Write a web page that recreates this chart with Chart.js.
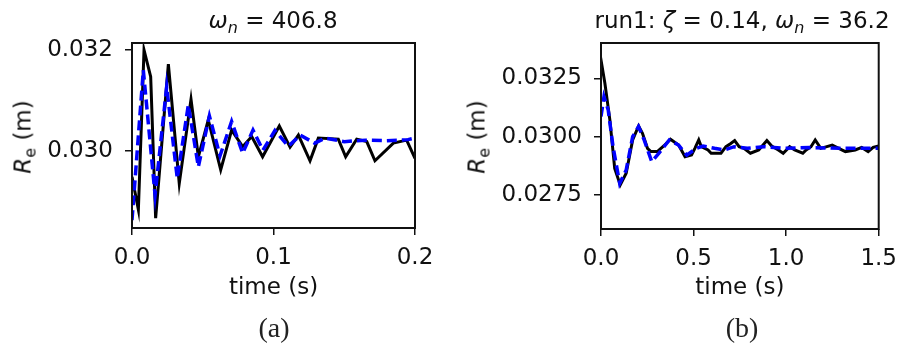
<!DOCTYPE html>
<html><head><meta charset="utf-8">
<script src="https://cdn.jsdelivr.net/npm/chart.js@4.4.0/dist/chart.umd.min.js"></script>
<style>
body{margin:0;background:#fff;width:906px;height:347px;position:relative;overflow:hidden;font-family:"DejaVu Sans",sans-serif;color:#111;}
canvas{position:absolute;top:0}
.t{position:absolute;font-size:23px;white-space:nowrap;transform:translate(-50%,-50%);line-height:1;}
.yl{position:absolute;font-size:23px;white-space:nowrap;transform:translate(-50%,-50%) rotate(-90deg);line-height:1;}
.sb{font-size:16px;position:relative;top:5px;}
.cap{position:absolute;font-family:"Liberation Serif",serif;font-size:28px;color:#222;transform:translate(-50%,-50%);line-height:1;}
</style></head>
<body>
<canvas id="ca" width="453" height="347" style="left:0"></canvas>
<canvas id="cb" width="453" height="347" style="left:453px"></canvas>
<div class="t" style="left:273px;top:20px"><i>ω</i><span class="sb"><i>n</i></span> = 406.8</div>
<div class="t" style="left:742px;top:20px">run1: <i>ζ</i> = 0.14, <i>ω</i><span class="sb"><i>n</i></span> = 36.2</div>
<div class="yl" style="left:23px;top:137px"><i>R</i><span class="sb">e</span> (m)</div>
<div class="yl" style="left:477px;top:137px"><i>R</i><span class="sb">e</span> (m)</div>
<div class="cap" style="left:274px;top:328px">(a)</div>
<div class="cap" style="left:742px;top:328px">(b)</div>
<script>
// ---- panel (a) data ----
const timeA_meas = [0,0.0045,0.0085,0.0132,0.0167,0.0257,0.0334,0.0417,0.0469,0.0539,0.0627,0.0704,0.0782,0.0846,0.0923,0.1041,0.1117,0.1176,0.1258,0.1317,0.1458,0.1510,0.1588,0.1659,0.1717,0.1847,0.1941,0.2];
const reA_meas   = [0.02948,0.02883,0.03200,0.03147,0.02866,0.03172,0.02935,0.03102,0.02988,0.03061,0.02962,0.03041,0.03008,0.03028,0.02988,0.03049,0.03007,0.03031,0.02980,0.03025,0.03023,0.02988,0.03023,0.03018,0.02980,0.03015,0.03021,0.02985];
const timeA_model = [0,0.0080,0.0163,0.0245,0.0320,0.0398,0.0469,0.0547,0.0622,0.0704,0.0782,0.0855,0.0925,0.1010,0.1105,0.1190,0.1290,0.1365,0.1500,0.1650,0.1800,0.1950,0.2];
const reA_model   = [0.02862,0.03160,0.02912,0.03127,0.02945,0.03091,0.02968,0.03069,0.02990,0.03058,0.02995,0.03041,0.03001,0.03040,0.03009,0.03031,0.03015,0.03025,0.03018,0.03021,0.03020,0.03022,0.03025];
const xTicksA = [0.0,0.1,0.2];
const yTicksA = [0.030,0.032];

// ---- panel (b) data ----
const timeB_meas = [0,0.006,0.021,0.048,0.074,0.104,0.136,0.171,0.203,0.224,0.251,0.269,0.304,0.339,0.375,0.419,0.454,0.489,0.507,0.528,0.542,0.578,0.595,0.648,0.675,0.701,0.722,0.746,0.772,0.807,0.852,0.896,0.922,0.958,0.984,1.019,1.046,1.090,1.108,1.134,1.157,1.187,1.249,1.284,1.320,1.373,1.408,1.443,1.470,1.5];
const reB_meas   = [0.03270,0.03300,0.03229,0.03071,0.02864,0.02793,0.02843,0.02986,0.03046,0.03014,0.02950,0.02936,0.02936,0.02960,0.02989,0.02964,0.02914,0.02921,0.02950,0.02986,0.02957,0.02943,0.02929,0.02929,0.02957,0.02971,0.02983,0.02957,0.02950,0.02929,0.02943,0.02983,0.02960,0.02943,0.02929,0.02957,0.02943,0.02929,0.02943,0.02957,0.02986,0.02950,0.02964,0.02950,0.02936,0.02943,0.02954,0.02936,0.02954,0.02960];
const timeB_model = [0,0.016,0.039,0.065,0.101,0.136,0.171,0.203,0.233,0.274,0.313,0.369,0.419,0.463,0.516,0.551,0.613,0.666,0.719,0.790,0.878,0.984,1.125,1.302,1.5];
const reB_model   = [0.03086,0.03171,0.03114,0.02957,0.02800,0.02857,0.03000,0.03043,0.02986,0.02893,0.02929,0.02986,0.02964,0.02921,0.02950,0.02960,0.02950,0.02943,0.02957,0.02950,0.02957,0.02950,0.02953,0.02950,0.02950];
const xTicksB = [0.0,0.5,1.0,1.5];
const yTicksB = [0.0275,0.0300,0.0325];

const frame = {id:'frame', afterDatasetsDraw(chart){
  const {ctx, chartArea:a} = chart;
  ctx.save(); ctx.strokeStyle='#111'; ctx.lineWidth=2;
  ctx.strokeRect(a.left, a.top, a.right-a.left, a.bottom-a.top); ctx.restore();
}};

const pts = (xs, ys) => xs.map((x,i)=>({x, y: ys[i]}));
const tickFont = {family:'DejaVu Sans', size:23};

function make(id, o){
  return new Chart(document.getElementById(id), {
    type:'line',
    data:{datasets:[
      {data: pts(o.tm, o.ym), borderColor:'#0000ff', borderWidth:3.5, borderDash:[10,5], pointRadius:0, fill:false, tension:0},
      {data: pts(o.tb, o.yb), borderColor:'#000000', borderWidth:3, pointRadius:0, fill:false, tension:0}
    ]},
    options:{
      responsive:false, animation:false, events:[],
      layout:{padding:{top:43, right:o.padR, left:0, bottom:0}},
      plugins:{legend:{display:false}, tooltip:{enabled:false}, title:{display:false}},
      scales:{
        x:{type:'linear', min:o.xmin, max:o.xmax,
          afterBuildTicks: s => { s.ticks = o.xt.map(v=>({value:v})); },
          afterFit: s => { s.height = o.xh; },
          ticks:{font:tickFont, color:'#111', padding:9, maxRotation:0, callback:v=>Number(v).toFixed(1)},
          grid:{drawOnChartArea:false, drawTicks:true, tickLength:7, color:'#111', lineWidth:1.5},
          border:{display:false},
          title:{display:true, text:'time (s)', font:tickFont, color:'#111', padding:{top:0,bottom:45}}
        },
        y:{type:'linear', min:o.ymin, max:o.ymax,
          afterBuildTicks: s => { s.ticks = o.yt.map(v=>({value:v})); },
          afterFit: s => { s.width = o.yw; },
          ticks:{font:tickFont, color:'#111', padding:12, callback:v=>Number(v).toFixed(o.dec)},
          grid:{drawOnChartArea:false, drawTicks:true, tickLength:7, color:'#111', lineWidth:1.5},
          border:{display:false}
        }
      }
    },
    plugins:[frame]
  });
}

make('ca', {tm:timeA_model, ym:reA_model, tb:timeA_meas, yb:reA_meas,
  xmin:0, xmax:0.2, ymin:0.028465, ymax:0.032139, xt:xTicksA, yt:yTicksA, dec:3,
  padR:38, yw:132, xh:119});
make('cb', {tm:timeB_model, ym:reB_model, tb:timeB_meas, yb:reB_meas,
  xmin:0, xmax:1.5, ymin:0.026042, ymax:0.034014, xt:xTicksB, yt:yTicksB, dec:4,
  padR:22, yw:148, xh:118});
</script>
</body></html>
